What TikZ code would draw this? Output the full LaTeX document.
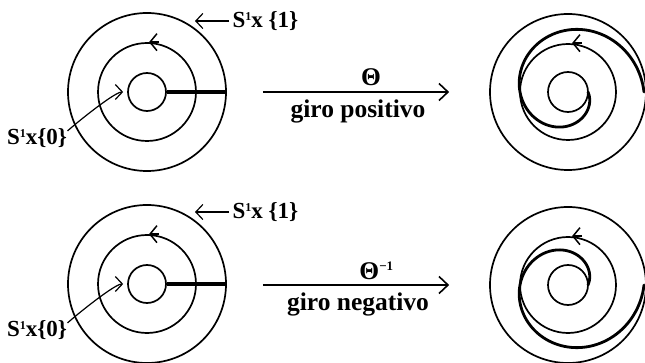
\documentclass[tikz,border=0pt]{standalone}
\usepackage{fontspec}
\setmainfont{Liberation Serif}
\usepackage{tikz}
\usetikzlibrary{arrows.meta,positioning,calc}
\newcommand{\Sone}{S\raisebox{6.5pt}{\fontsize{12}{12}\selectfont 1}}

\begin{document}
\begin{tikzpicture}[
x=1pt,y=1pt,
every node/.style={font=\fontsize{23}{27}\selectfont\bfseries},
big/.style={font=\fontsize{25.5}{29}\selectfont\bfseries},
ring/.style={circle,draw,line width=1.7pt,inner sep=0pt,minimum size=#1},
seg/.style={line width=4pt},
spiral/.style={line width=2.8pt,line cap=round},
barb/.style={-{Straight Barb[length=7pt,width=17pt,line width=1.5pt]},line width=1.5pt},
lead/.style={-{Straight Barb[length=7pt,width=15pt,line width=1.2pt]},line width=1.2pt},
map/.style={-{Straight Barb[length=9pt,width=17pt,line width=1.6pt]},line width=1.6pt}
]
\useasboundingbox (0,0) rectangle (645,-363);
\coordinate (cA) at (147,-92);
\coordinate (cB) at (568,-92);
\coordinate (cC) at (147,-284);
\coordinate (cD) at (568,-285);

% discos de la izquierda
\foreach \c in {A,C} {
  \node[ring=158] (o\c) at (c\c) {};
  \node[ring=98] (m\c) at (c\c) {};
  \node[ring=38] (i\c) at (c\c) {};
  \draw[seg] (i\c.east) -- (o\c.east);
  \draw[barb] ($(m\c.north)+(12,0)$) -- ($(m\c.north)+(2,0)$);
}
% discos de la derecha
\foreach \c in {B,D} {
  \node[ring=156] (o\c) at (c\c) {};
  \node[ring=96] (m\c) at (c\c) {};
  \node[ring=40] (i\c) at (c\c) {};
  \draw[barb] ($(m\c.north)+(14,0)$) -- ($(m\c.north)+(4,0)$);
}
\draw[spiral,shift={(cB)}] plot[domain=0:360,samples=120]
  ({(20+0.1556*\x)*cos(-\x)},{(20+0.1556*\x)*sin(-\x)});
\draw[spiral,shift={(cD)}] plot[domain=0:360,samples=120]
  ({(20+0.1556*\x)*cos(\x)},{(20+0.1556*\x)*sin(\x)});

% etiquetas
\node[anchor=west] (s1A) at (229,-21) {\Sone x \{1\}};
\node[anchor=west] (s1C) at (229,-212) {\Sone x \{1\}};
\node (s0A) at (37,-138) {\Sone x\{0\}};
\node (s0C) at (37,-330) {\Sone x\{0\}};
\coordinate (pA) at (195,-21);
\coordinate (pC) at (195,-212);
\draw[lead] (s1A.west) -- (pA);
\draw[lead] (s1C.west) -- (pC);
\draw[lead,shorten >=4pt] ([xshift=-3pt,yshift=-6pt]s0A.north east) to[out=42,in=180,looseness=0.45] (iA.west);
\draw[lead,shorten >=4pt] ([xshift=-3pt,yshift=-6pt]s0C.north east) to[out=42,in=180,looseness=0.45] (iC.west);

% flechas
\draw[map,shorten <=36pt,shorten >=40pt] (oA.east) --
  node[big,pos=0.55,above=2pt] {Θ}
  node[big,midway,below=4pt] {giro positivo} (oB.west);
\draw[map,shorten <=36pt,shorten >=40pt] (oC.east |- cD) --
  node[big,pos=0.57,above=1pt] {Θ\raisebox{9pt}{\fontsize{13}{13}\selectfont −1}}
  node[big,midway,below=4pt] {giro negativo} (oD.west);
\end{tikzpicture}
\end{document}
